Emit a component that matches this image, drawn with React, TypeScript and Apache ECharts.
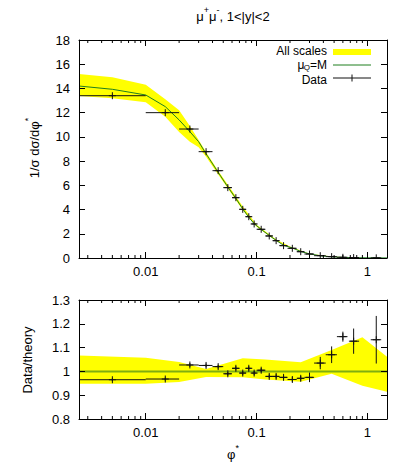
import React, { useEffect, useRef } from "react";
import * as echarts from "echarts";

// ---------- data ----------
const xMin = 0.0025;
const xMax = 1.5;

const xCenter = [0.005, 0.015, 0.025, 0.035, 0.045, 0.055, 0.065, 0.075, 0.085, 0.095, 0.11, 0.13, 0.15, 0.175, 0.21, 0.25, 0.3, 0.375, 0.475, 0.6, 0.75, 1.2];
const xLow = [0, 0.01, 0.02, 0.03, 0.04, 0.05, 0.06, 0.07, 0.08, 0.09, 0.1, 0.12, 0.14, 0.16, 0.19, 0.23, 0.27, 0.33, 0.42, 0.53, 0.68, 1.07];
const xHigh = [0.01, 0.02, 0.03, 0.04, 0.05, 0.06, 0.07, 0.08, 0.09, 0.1, 0.12, 0.14, 0.16, 0.19, 0.23, 0.27, 0.33, 0.42, 0.53, 0.66, 0.84, 1.33];

const topValue = [13.4, 12.0, 10.65, 8.78, 7.21, 5.81, 4.98, 4.02, 3.41, 2.81, 2.37, 1.82, 1.43, 1.02, 0.8, 0.52, 0.33, 0.19, 0.11, 0.057, 0.035, 0.011];
const topError = [0.08, 0.08, 0.09, 0.07, 0.06, 0.05, 0.045, 0.036, 0.031, 0.025, 0.021, 0.015, 0.013, 0.009, 0.008, 0.005, 0.007, 0.005, 0.004, 0.0012, 0.002, 0.001];

const ratioValue = [0.965, 0.968, 1.027, 1.025, 1.02, 0.99, 1.013, 0.993, 1.013, 0.993, 1.005, 0.979, 0.979, 0.975, 0.966, 0.971, 0.975, 1.035, 1.07, 1.146, 1.127, 1.133];
const ratioError = [0.006, 0.006, 0.008, 0.008, 0.008, 0.008, 0.009, 0.009, 0.009, 0.009, 0.009, 0.008, 0.009, 0.009, 0.01, 0.01, 0.02, 0.026, 0.035, 0.021, 0.053, 0.1];

const theoryX = [0.0025, 0.005, 0.01, 0.015, 0.02, 0.025, 0.03, 0.035, 0.045, 0.055, 0.065, 0.075, 0.085, 0.095, 0.11, 0.13, 0.15, 0.175, 0.21, 0.25, 0.3, 0.375, 0.475, 0.6, 0.75, 1.0, 1.5];
const theoryY = [14.2, 13.93, 13.46, 12.5, 11.4, 10.43, 9.6, 8.6, 7.07, 5.87, 4.92, 4.05, 3.37, 2.83, 2.36, 1.86, 1.46, 1.05, 0.83, 0.54, 0.34, 0.185, 0.1, 0.05, 0.03, 0.015, 0.005];

const bandTopX = [0.0025, 0.005, 0.01, 0.015, 0.02, 0.025, 0.03, 0.035, 0.045, 0.06, 0.075, 0.1, 0.15, 0.2, 0.3, 0.5, 1.0, 1.5];
const bandTopHi = [15.2, 14.92, 14.3, 13.1, 12.2, 10.9, 9.75, 8.75, 7.2, 5.55, 4.25, 2.75, 1.53, 0.94, 0.355, 0.1, 0.017, 0.0055];
const bandTopLo = [13.38, 13.19, 12.85, 11.67, 10.4, 9.6, 9.15, 8.35, 6.9, 5.25, 3.95, 2.58, 1.4, 0.84, 0.33, 0.09, 0.014, 0.0045];

const bandRatioX = [0.0025, 0.01, 0.02, 0.035, 0.075, 0.12, 0.25, 0.475, 0.9, 1.5];
const bandRatioHi = [1.067, 1.057, 1.04, 1.01, 1.055, 1.05, 1.038, 1.09, 1.143, 1.062];
const bandRatioLo = [0.948, 0.948, 0.955, 0.976, 0.975, 0.966, 0.956, 0.99, 0.94, 0.915];

const minorTicks = [0.003, 0.004, 0.005, 0.006, 0.007, 0.008, 0.009, 0.02, 0.03, 0.04, 0.05, 0.06, 0.07, 0.08, 0.09, 0.2, 0.3, 0.4, 0.5, 0.6, 0.7, 0.8, 0.9];

// ---------- styling ----------
const FONT = "'Liberation Sans', Arial, Helvetica, sans-serif";
const FS = 13;
const LFS = 12;
const GREEN = "#1f7f1f";
const YELLOW = "#ffff00";
const INK = "#111";

const fmtX = (v: number) => String(+Number(v).toPrecision(3));
const fmtY = (v: number) => String(+Number(v).toFixed(2));

const xAxisDef = (grid: number, position: string, labels: boolean) => ({
  type: "log",
  logBase: 10,
  gridIndex: grid,
  position,
  min: xMin,
  max: xMax,
  z: 10,
  axisLine: { show: true, onZero: false, lineStyle: { color: "#000", width: 1 } },
  axisTick: { show: true, inside: true, length: 6, lineStyle: { color: "#000", width: 1 } },
  axisLabel: {
    show: labels,
    formatter: fmtX,
    showMinLabel: false,
    showMaxLabel: false,
    color: "#000",
    fontSize: FS,
    fontFamily: FONT,
    margin: 7,
  },
  splitLine: { show: false },
});

const yAxisDef = (grid: number, position: string, labels: boolean, min: number, max: number, interval: number) => ({
  type: "value",
  gridIndex: grid,
  position,
  min,
  max,
  interval,
  z: 10,
  axisLine: { show: true, onZero: false, lineStyle: { color: "#000", width: 1 } },
  axisTick: { show: true, inside: true, length: 6, lineStyle: { color: "#000", width: 1 } },
  axisLabel: { show: labels, formatter: fmtY, color: "#000", fontSize: FS, fontFamily: FONT, margin: 9 },
  splitLine: { show: false },
});

const bandRender = (xs: number[], hi: number[], lo: number[]) => (params: any, api: any) => {
  if (params.dataIndex !== 0) return null;
  const pts: number[][] = [];
  for (let i = 0; i < xs.length; i++) pts.push(api.coord([xs[i], hi[i]]));
  for (let i = xs.length - 1; i >= 0; i--) pts.push(api.coord([xs[i], lo[i]]));
  return { type: "polygon", shape: { points: pts }, style: { fill: YELLOW, stroke: null } };
};

const errRender = (params: any, api: any) => {
  const x = api.value(0);
  const y = api.value(1);
  const xl = api.value(2);
  const xh = api.value(3);
  const yl = api.value(4);
  const yh = api.value(5);
  const cs = params.coordSys;
  const c = api.coord([x, y]);
  const pl = xl > 0 ? api.coord([xl, y])[0] : cs.x;
  const ph = api.coord([xh, y])[0];
  const pyl = api.coord([x, yl])[1];
  const pyh = api.coord([x, yh])[1];
  const st = { stroke: INK, lineWidth: 1 };
  return {
    type: "group",
    children: [
      { type: "line", shape: { x1: pl, y1: c[1], x2: ph, y2: c[1] }, style: st },
      { type: "line", shape: { x1: c[0], y1: pyl, x2: c[0], y2: pyh }, style: st },
      { type: "line", shape: { x1: c[0] - 3.5, y1: c[1], x2: c[0] + 3.5, y2: c[1] }, style: st },
      { type: "line", shape: { x1: c[0], y1: c[1] - 3.5, x2: c[0], y2: c[1] + 3.5 }, style: st },
    ],
  };
};

const tickRender = (params: any, api: any) => {
  const cs = params.coordSys;
  const px = api.coord([api.value(0), api.value(1)])[0];
  const st = { stroke: "#000", lineWidth: 1 };
  const bottom = cs.y + cs.height;
  return {
    type: "group",
    children: [
      { type: "line", shape: { x1: px, y1: bottom, x2: px, y2: bottom - 3 }, style: st },
      { type: "line", shape: { x1: px, y1: cs.y, x2: px, y2: cs.y + 3 }, style: st },
    ],
  };
};

const richBase = {
  n: { fontSize: FS, fontFamily: FONT, color: "#000", verticalAlign: "bottom", lineHeight: 17 },
  sup: { fontSize: 9, fontFamily: FONT, color: "#000", verticalAlign: "top", lineHeight: 17 },
};

const legendText = (text: string, x: number, y: number, size: number) => ({
  type: "text",
  x,
  y,
  style: {
    text,
    fontSize: size,
    fontFamily: FONT,
    fill: "#000",
    align: "right",
    verticalAlign: "middle",
  },
});

const buildOption = () => {
  const topData = xCenter.map((x, i) => [x, topValue[i], xLow[i], xHigh[i], topValue[i] - topError[i], topValue[i] + topError[i]]);
  const ratioData = xCenter.map((x, i) => [x, ratioValue[i], xLow[i], xHigh[i], ratioValue[i] - ratioError[i], ratioValue[i] + ratioError[i]]);

  return {
    animation: false,
    backgroundColor: "#fff",
    textStyle: { fontFamily: FONT },
    grid: [
      { left: 79, right: 20, top: 40, height: 218, show: false },
      { left: 79, right: 20, top: 300, height: 119, show: false },
    ],
    xAxis: [xAxisDef(0, "bottom", true), xAxisDef(0, "top", false), xAxisDef(1, "bottom", true), xAxisDef(1, "top", false)],
    yAxis: [
      yAxisDef(0, "left", true, 0, 18, 2),
      yAxisDef(0, "right", false, 0, 18, 2),
      yAxisDef(1, "left", true, 0.8, 1.3, 0.1),
      yAxisDef(1, "right", false, 0.8, 1.3, 0.1),
    ],
    series: [
      {
        type: "custom",
        name: "All scales",
        xAxisIndex: 0,
        yAxisIndex: 0,
        z: 1,
        clip: true,
        encode: { x: 0, y: 1 },
        data: bandTopX.map((x, i) => [x, bandTopHi[i]]),
        renderItem: bandRender(bandTopX, bandTopHi, bandTopLo),
      },
      {
        type: "line",
        name: "μQ=M",
        xAxisIndex: 0,
        yAxisIndex: 0,
        z: 3,
        showSymbol: false,
        symbol: "none",
        lineStyle: { color: GREEN, width: 1 },
        data: theoryX.map((x, i) => [x, theoryY[i]]),
      },
      {
        type: "custom",
        name: "Data",
        xAxisIndex: 0,
        yAxisIndex: 0,
        z: 4,
        clip: true,
        encode: { x: 0, y: 1 },
        data: topData,
        renderItem: errRender,
      },
      {
        type: "custom",
        xAxisIndex: 0,
        yAxisIndex: 0,
        z: 5,
        encode: { x: 0, y: 1 },
        data: minorTicks.map((v) => [v, 1]),
        renderItem: tickRender,
      },
      {
        type: "custom",
        xAxisIndex: 2,
        yAxisIndex: 2,
        z: 1,
        clip: true,
        encode: { x: 0, y: 1 },
        data: bandRatioX.map((x, i) => [x, bandRatioHi[i]]),
        renderItem: bandRender(bandRatioX, bandRatioHi, bandRatioLo),
      },
      {
        type: "line",
        xAxisIndex: 2,
        yAxisIndex: 2,
        z: 3,
        showSymbol: false,
        symbol: "none",
        lineStyle: { color: "#7fae10", width: 2 },
        data: [
          [xMin, 1],
          [xMax, 1],
        ],
      },
      {
        type: "custom",
        xAxisIndex: 2,
        yAxisIndex: 2,
        z: 4,
        clip: true,
        encode: { x: 0, y: 1 },
        data: ratioData,
        renderItem: errRender,
      },
      {
        type: "custom",
        xAxisIndex: 2,
        yAxisIndex: 2,
        z: 5,
        encode: { x: 0, y: 1 },
        data: minorTicks.map((v) => [v, 1]),
        renderItem: tickRender,
      },
    ],
    graphic: [
      {
        type: "text",
        x: 233,
        y: 14,
        style: {
          text: "{n|μ}{sup|+}{n|μ}{sup|-}{n|, 1<|y|<2}",
          rich: richBase,
          align: "center",
          verticalAlign: "middle",
        },
      },
      {
        type: "text",
        x: 32,
        y: 148,
        rotation: Math.PI / 2,
        style: {
          text: "{n|1/σ dσ/dφ}{sup|*}",
          rich: richBase,
          align: "center",
          verticalAlign: "middle",
        },
      },
      {
        type: "text",
        x: 27,
        y: 360,
        rotation: Math.PI / 2,
        style: {
          text: "Data/theory",
          fontSize: FS,
          fontFamily: FONT,
          fill: "#000",
          align: "center",
          verticalAlign: "middle",
        },
      },
      {
        type: "text",
        x: 233,
        y: 452,
        style: {
          text: "{n|φ}{sup|*}",
          rich: richBase,
          align: "center",
          verticalAlign: "middle",
        },
      },
      // legend
      legendText("All scales", 327, 51, LFS),
      { type: "rect", shape: { x: 333, y: 49, width: 38, height: 6 }, style: { fill: YELLOW } },
      legendText("=M", 327, 65, LFS),
      legendText("Q", 310, 67.5, 8),
      legendText("μ", 304.5, 64.5, LFS),
      { type: "line", shape: { x1: 333, y1: 65, x2: 371, y2: 65 }, style: { stroke: GREEN, lineWidth: 1 } },
      legendText("Data", 327, 79.5, LFS),
      { type: "line", shape: { x1: 333, y1: 78, x2: 371, y2: 78 }, style: { stroke: INK, lineWidth: 1 } },
      { type: "line", shape: { x1: 352, y1: 74.5, x2: 352, y2: 81.5 }, style: { stroke: INK, lineWidth: 1 } },
    ],
  };
};

export default function App() {
  const ref = useRef<HTMLDivElement>(null);
  useEffect(() => {
    if (!ref.current) return;
    const chart = echarts.init(ref.current, null, { renderer: "svg" });
    chart.setOption(buildOption() as any);
    return () => chart.dispose();
  }, []);
  return (
    <div
      ref={ref}
      style={{ position: "fixed", left: 0, top: 0, width: 407, height: 475, background: "#fff" }}
    />
  );
}
